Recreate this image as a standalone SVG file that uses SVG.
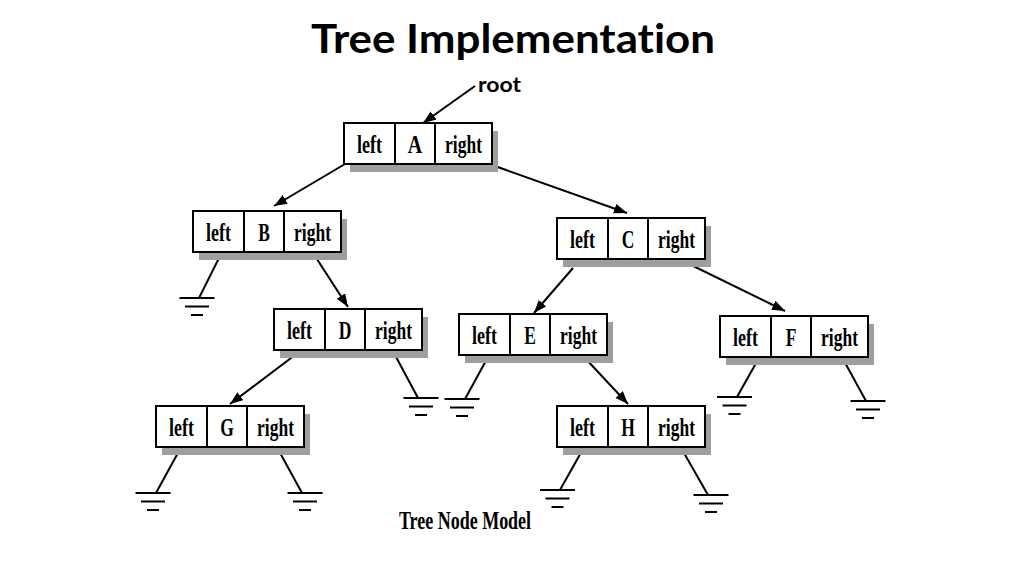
<svg xmlns="http://www.w3.org/2000/svg" xmlns:xlink="http://www.w3.org/1999/xlink" width="1024" height="576" viewBox="0 0 1024 576">
<style>
.title{font-family:Lato,"Liberation Sans",sans-serif;font-weight:bold;fill:#000;font-variant-ligatures:none;font-feature-settings:"liga" 0}
.lbl{font-family:"Liberation Serif","Times New Roman",serif;font-weight:bold;font-size:25px;fill:#000;text-anchor:middle}
.box{fill:#fff;stroke:#000;stroke-width:2}
.div{stroke:#000;stroke-width:2}
.shadow{fill:#9e9e9e}
.edge{stroke:#000;stroke-width:2;fill:none}
.gnd line{stroke:#000;stroke-width:2}
</style>
<defs>
<marker id="arr" markerUnits="userSpaceOnUse" markerWidth="14" markerHeight="12" refX="13" refY="5" orient="auto">
<path d="M0,0 L13,5 L0,10 Z" fill="#000"/>
</marker>
<g id="ground" class="gnd">
<line x1="-17.5" y1="0" x2="17.5" y2="0"/>
<line x1="-12" y1="8.5" x2="12" y2="8.5"/>
<line x1="-6" y1="17" x2="6" y2="17"/>
</g>
<g id="nodebox">
<rect class="shadow" x="6" y="8" width="148" height="41"/>
<rect class="box" x="0" y="0" width="148" height="41"/>
<line class="div" x1="51" y1="0" x2="51" y2="41"/>
<line class="div" x1="91" y1="0" x2="91" y2="41"/>
</g>
</defs>
<rect width="1024" height="576" fill="#fff"/>
<text class="title" x="513" y="53" font-size="40" text-anchor="middle" textLength="404" lengthAdjust="spacingAndGlyphs">Tree Implementation</text>
<text class="title" x="478" y="92" font-size="21" textLength="43" lengthAdjust="spacingAndGlyphs">root</text>

<g id="connectors">
<line class="edge" x1="475" y1="86" x2="423" y2="123" marker-end="url(#arr)"/>
<line class="edge" x1="345" y1="164" x2="274" y2="206" marker-end="url(#arr)"/>
<line class="edge" x1="492" y1="165" x2="627" y2="213" marker-end="url(#arr)"/>
<line class="edge" x1="313" y1="253" x2="348" y2="307" marker-end="url(#arr)"/>
<line class="edge" x1="299" y1="352" x2="230" y2="404" marker-end="url(#arr)"/>
<line class="edge" x1="573" y1="268" x2="534" y2="313" marker-end="url(#arr)"/>
<line class="edge" x1="683" y1="261" x2="785" y2="311" marker-end="url(#arr)"/>
<line class="edge" x1="584" y1="357" x2="628" y2="404" marker-end="url(#arr)"/>
<line class="edge" x1="219" y1="258" x2="199" y2="298"/>
<line class="edge" x1="395" y1="355" x2="418" y2="398"/>
<line class="edge" x1="179" y1="451" x2="156" y2="493"/>
<line class="edge" x1="279" y1="451" x2="302" y2="493"/>
<line class="edge" x1="488" y1="357" x2="465" y2="399"/>
<line class="edge" x1="760" y1="356" x2="737" y2="397"/>
<line class="edge" x1="843" y1="359" x2="866" y2="401"/>
<line class="edge" x1="583" y1="449" x2="560" y2="490"/>
<line class="edge" x1="684" y1="453" x2="708" y2="495"/>
<use href="#ground" x="197" y="298"/>
<use href="#ground" x="421" y="398"/>
<use href="#ground" x="153" y="493"/>
<use href="#ground" x="305" y="493"/>
<use href="#ground" x="462" y="399"/>
<use href="#ground" x="734.5" y="397"/>
<use href="#ground" x="868" y="401"/>
<use href="#ground" x="557.5" y="490"/>
<use href="#ground" x="711" y="495"/>
</g>

<g id="nodeA" transform="translate(344,123)">
<use href="#nodebox"/>
<text class="lbl" transform="translate(25.5,30) scale(0.72,1)">left</text>
<text class="lbl" transform="translate(71,30) scale(0.8,1)">A</text>
<text class="lbl" transform="translate(119.5,30) scale(0.7,1)">right</text>
</g>
<g id="nodeB" transform="translate(193,211)">
<use href="#nodebox"/>
<text class="lbl" transform="translate(25.5,30) scale(0.72,1)">left</text>
<text class="lbl" transform="translate(71,30) scale(0.7,1)">B</text>
<text class="lbl" transform="translate(119.5,30) scale(0.7,1)">right</text>
</g>
<g id="nodeC" transform="translate(557,218)">
<use href="#nodebox"/>
<text class="lbl" transform="translate(25.5,30) scale(0.72,1)">left</text>
<text class="lbl" transform="translate(71,30) scale(0.7,1)">C</text>
<text class="lbl" transform="translate(119.5,30) scale(0.7,1)">right</text>
</g>
<g id="nodeD" transform="translate(274,309)">
<use href="#nodebox"/>
<text class="lbl" transform="translate(25.5,30) scale(0.72,1)">left</text>
<text class="lbl" transform="translate(71,30) scale(0.7,1)">D</text>
<text class="lbl" transform="translate(119.5,30) scale(0.7,1)">right</text>
</g>
<g id="nodeE" transform="translate(459,314)">
<use href="#nodebox"/>
<text class="lbl" transform="translate(25.5,30) scale(0.72,1)">left</text>
<text class="lbl" transform="translate(71,30) scale(0.7,1)">E</text>
<text class="lbl" transform="translate(119.5,30) scale(0.7,1)">right</text>
</g>
<g id="nodeF" transform="translate(720,316)">
<use href="#nodebox"/>
<text class="lbl" transform="translate(25.5,30) scale(0.72,1)">left</text>
<text class="lbl" transform="translate(71,30) scale(0.7,1)">F</text>
<text class="lbl" transform="translate(119.5,30) scale(0.7,1)">right</text>
</g>
<g id="nodeG" transform="translate(156,406)">
<use href="#nodebox"/>
<text class="lbl" transform="translate(25.5,30) scale(0.72,1)">left</text>
<text class="lbl" transform="translate(71,30) scale(0.7,1)">G</text>
<text class="lbl" transform="translate(119.5,30) scale(0.7,1)">right</text>
</g>
<g id="nodeH" transform="translate(557,406)">
<use href="#nodebox"/>
<text class="lbl" transform="translate(25.5,30) scale(0.72,1)">left</text>
<text class="lbl" transform="translate(71,30) scale(0.7,1)">H</text>
<text class="lbl" transform="translate(119.5,30) scale(0.7,1)">right</text>
</g>

<text class="lbl" transform="translate(465,529) scale(0.72,1)">Tree Node Model</text>
</svg>
